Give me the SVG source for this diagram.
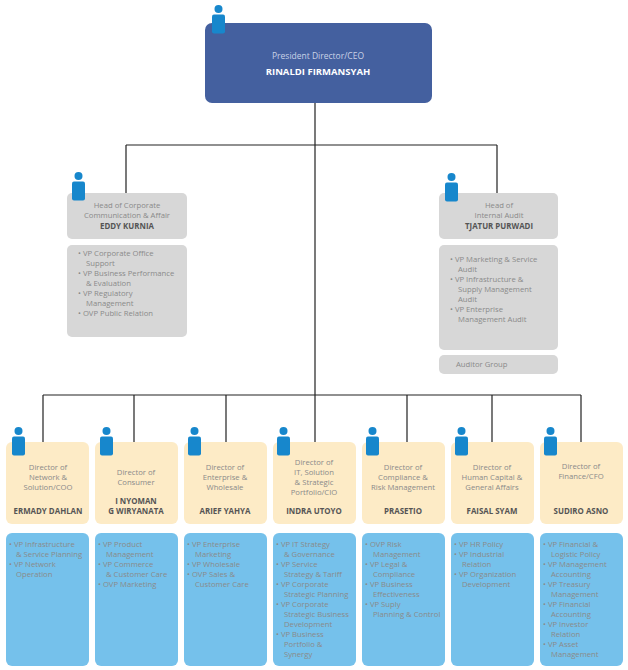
<svg xmlns="http://www.w3.org/2000/svg" width="628" height="670" viewBox="0 0 628 670">
<style>
text{font-family:"Open Sans","Liberation Sans",sans-serif;font-size:7.7px;fill:#8a8a8a}
.c{text-anchor:middle}
.n{font-weight:bold;fill:#555;font-size:7.9px}
.top{fill:#44609f}
.g{fill:#d7d7d7}
.y{fill:#fdebc6}
.b{fill:#75c1eb}
.ic{fill:#1787cc}
.ln{stroke:#222;stroke-width:1.2;fill:none}
</style>
<defs>
<g id="icon"><circle cx="6.5" cy="4" r="4" class="ic"/><rect x="0" y="9.5" width="13" height="19" rx="2" class="ic"/></g>
</defs>
<rect width="628" height="670" fill="#fff"/>
<g id="connectors">
<path class="ln" d="M315 103V395M126 145H497M126 145V193M497 145V193M43 395H581M43 395V442M134 395V442M226 395V442M315 395V442M407 395V442M492 395V442M581 395V442"/>
</g>
<g id="ceo">
<rect x="205" y="23" width="227" height="80" rx="7" class="top"/>
<use href="#icon" x="212" y="5"/>
<text x="318" y="59" class="c" style="fill:#c9d2e6;font-size:8.5px">President Director/CEO</text>
<text x="318" y="75" class="c" style="fill:#fff;font-weight:bold;font-size:9.5px">RINALDI FIRMANSYAH</text>
</g>
<g id="corp-comm">
<rect x="67" y="193" width="120" height="46" rx="5" class="g"/>
<use href="#icon" x="72" y="172"/>
<text x="127" y="208" class="c">Head of Corporate</text>
<text x="127" y="218" class="c">Communication &amp; Affair</text>
<text x="127" y="229" class="c n">EDDY KURNIA</text>
<rect x="67" y="245" width="120" height="92" rx="5" class="g"/>
<text x="78" y="256">• VP Corporate Office</text>
<text x="86" y="266">Support</text>
<text x="78" y="276">• VP Business Performance</text>
<text x="86" y="286">&amp; Evaluation</text>
<text x="78" y="296">• VP Regulatory</text>
<text x="86" y="306">Management</text>
<text x="78" y="316">• OVP Public Relation</text>
</g>
<g id="internal-audit">
<rect x="439" y="193" width="119" height="46" rx="5" class="g"/>
<use href="#icon" x="445" y="173"/>
<text x="499" y="208" class="c">Head of</text>
<text x="499" y="218" class="c">Internal Audit</text>
<text x="499" y="229" class="c n">TJATUR PURWADI</text>
<rect x="439" y="245" width="119" height="105" rx="5" class="g"/>
<text x="450" y="262">• VP Marketing &amp; Service</text>
<text x="458" y="272">Audit</text>
<text x="450" y="282">• VP Infrastructure &amp;</text>
<text x="458" y="292">Supply Management</text>
<text x="458" y="302">Audit</text>
<text x="450" y="312">• VP Enterprise</text>
<text x="458" y="322">Management Audit</text>
<rect x="439" y="355" width="119" height="19" rx="5" class="g"/>
<text x="456" y="367">Auditor Group</text>
</g>
<g id="d1">
<rect x="6" y="442" width="83" height="82" rx="6" class="y"/><use href="#icon" x="12" y="427"/>
<text x="48" y="470" class="c">Director of</text><text x="48" y="480" class="c">Network &amp;</text><text x="48" y="490" class="c">Solution/COO</text>
<text x="48" y="514" class="c n">ERMADY DAHLAN</text>
<rect x="6" y="533" width="83" height="133" rx="6" class="b"/>
<text x="9" y="547">• VP Infrastructure</text><text x="16" y="557">&amp; Service  Planning</text><text x="9" y="567">• VP Network</text><text x="16" y="577">Operation</text>
</g>
<g id="d2">
<rect x="95" y="442" width="83" height="82" rx="6" class="y"/><use href="#icon" x="100" y="427"/>
<text x="136" y="475" class="c">Director of</text><text x="136" y="485" class="c">Consumer</text>
<text x="136" y="504" class="c n">I NYOMAN</text><text x="136" y="514" class="c n">G WIRYANATA</text>
<rect x="95" y="533" width="83" height="133" rx="6" class="b"/>
<text x="98" y="547">• VP Product</text><text x="106" y="557">Management</text><text x="98" y="567">• VP Commerce</text><text x="106" y="577">&amp; Customer Care</text><text x="98" y="587">• OVP Marketing</text>
</g>
<g id="d3">
<rect x="184" y="442" width="83" height="82" rx="6" class="y"/><use href="#icon" x="188" y="427"/>
<text x="225" y="470" class="c">Director of</text><text x="225" y="480" class="c">Enterprise &amp;</text><text x="225" y="490" class="c">Wholesale</text>
<text x="225" y="514" class="c n">ARIEF YAHYA</text>
<rect x="184" y="533" width="83" height="133" rx="6" class="b"/>
<text x="187" y="547">• VP Enterprise</text><text x="195" y="557">Marketing</text><text x="187" y="567">• VP Wholesale</text><text x="187" y="577">• OVP Sales &amp;</text><text x="195" y="587">Customer Care</text>
</g>
<g id="d4">
<rect x="273" y="442" width="83" height="82" rx="6" class="y"/><use href="#icon" x="277" y="427"/>
<text x="314" y="465" class="c">Director of</text><text x="314" y="475" class="c">IT, Solution</text><text x="314" y="485" class="c">&amp; Strategic</text><text x="314" y="495" class="c">Portfolio/CIO</text>
<text x="314" y="514" class="c n">INDRA UTOYO</text>
<rect x="273" y="533" width="83" height="133" rx="6" class="b"/>
<text x="276" y="547">• VP IT Strategy</text><text x="284" y="557">&amp; Governance</text><text x="276" y="567">• VP Service</text><text x="284" y="577">Strategy &amp; Tariff</text><text x="276" y="587">• VP Corporate</text><text x="284" y="597">Strategic Planning</text><text x="276" y="607">• VP Corporate</text><text x="284" y="617">Strategic Business</text><text x="284" y="627">Development</text><text x="276" y="637">• VP Business</text><text x="284" y="647">Portfolio &amp;</text><text x="284" y="657">Synergy</text>
</g>
<g id="d5">
<rect x="362" y="442" width="83" height="82" rx="6" class="y"/><use href="#icon" x="366" y="427"/>
<text x="403" y="470" class="c">Director of</text><text x="403" y="480" class="c">Compliance &amp;</text><text x="403" y="490" class="c">Risk Management</text>
<text x="403" y="514" class="c n">PRASETIO</text>
<rect x="362" y="533" width="83" height="133" rx="6" class="b"/>
<text x="365" y="547">• OVP Risk</text><text x="373" y="557">Management</text><text x="365" y="567">• VP Legal &amp;</text><text x="373" y="577">Compliance</text><text x="365" y="587">• VP Business</text><text x="373" y="597">Effectiveness</text><text x="365" y="607">• VP Suply</text><text x="373" y="617">Planning &amp; Control</text>
</g>
<g id="d6">
<rect x="451" y="442" width="83" height="82" rx="6" class="y"/><use href="#icon" x="455" y="427"/>
<text x="492" y="470" class="c">Director of</text><text x="492" y="480" class="c">Human Capital &amp;</text><text x="492" y="490" class="c">General Affairs</text>
<text x="492" y="514" class="c n">FAISAL SYAM</text>
<rect x="451" y="533" width="83" height="133" rx="6" class="b"/>
<text x="454" y="547">• VP HR Policy</text><text x="454" y="557">• VP Industrial</text><text x="462" y="567">Relation</text><text x="454" y="577">• VP Organization</text><text x="462" y="587">Development</text>
</g>
<g id="d7">
<rect x="540" y="442" width="83" height="82" rx="6" class="y"/><use href="#icon" x="544" y="427"/>
<text x="581" y="469" class="c">Director of</text><text x="581" y="479" class="c">Finance/CFO</text>
<text x="581" y="514" class="c n">SUDIRO ASNO</text>
<rect x="540" y="533" width="83" height="133" rx="6" class="b"/>
<text x="543" y="547">• VP Financial &amp;</text><text x="551" y="557">Logistic Policy</text><text x="543" y="567">• VP Management</text><text x="551" y="577">Accounting</text><text x="543" y="587">• VP Treasury</text><text x="551" y="597">Management</text><text x="543" y="607">• VP Financial</text><text x="551" y="617">Accounting</text><text x="543" y="627">• VP Investor</text><text x="551" y="637">Relation</text><text x="543" y="647">• VP Asset</text><text x="551" y="657">Management</text>
</g>
</svg>
